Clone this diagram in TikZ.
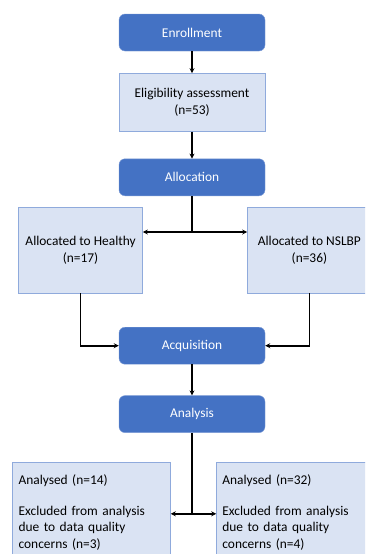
\documentclass[tikz,border=0pt]{standalone}
\usepackage{fontspec}
\setmainfont{Carlito}
\usepackage{tikz}
\usetikzlibrary{arrows.meta, positioning}
\definecolor{phaseblue}{HTML}{4472C4}
\definecolor{phaseedge}{HTML}{7C9BD6}
\definecolor{infofill}{HTML}{DAE3F3}
\definecolor{infoedge}{HTML}{8FAADC}
\tikzstyle{arrow} = [line width=1.6pt,-{Stealth[length=5pt,width=5pt]}]
\tikzstyle{phase} = [draw=phaseedge, fill=phaseblue, text=white, rounded corners=6pt,
  minimum width=146pt, minimum height=37pt, font=\fontsize{13.4}{17}\selectfont]
\tikzstyle{info} = [draw=infoedge, fill=infofill, align=center,
  font=\fontsize{13.4}{17}\selectfont]
\tikzstyle{result} = [draw=infoedge, fill=infofill, align=left, text width=146pt,
  inner xsep=6pt, inner ysep=13pt, font=\fontsize{13.4}{16.5}\selectfont]

\begin{document}
\begin{tikzpicture}[x=1pt, y=-1pt, node distance=22pt]
		\clip (0,0) rectangle (365,554);
		\fill[white] (0,0) rectangle (365,554);
		\node[phase]                                   (enrol)    at (192,32.5) {Enrollment};
		\node[info, minimum width=146pt, minimum height=58pt, below=of enrol]
		                                               (elig)     {Eligibility assessment\\(n=53)};
		\node[phase, below=27pt of elig]               (alloc)    {Allocation};
		\node[info, minimum width=124pt, minimum height=86pt, below left=11pt and -24pt of alloc]
		                                               (healthy)  {Allocated to Healthy\\(n=17)};
		\node[info, minimum width=124pt, minimum height=86pt, below right=11pt and -18pt of alloc]
		                                               (nslbp)    {Allocated to NSLBP\\(n=36)};
		\node[phase, below=131pt of alloc]             (acq)      {Acquisition};
		\node[phase, below=31pt of acq]                (analysis) {Analysis};
		\node[result, below left=29pt and -52pt of analysis]
		                                               (res hc)   {Analysed (n=14)\\[14pt]Excluded from analysis\\due to data quality\\concerns (n=3)\\[20pt]};
		\node[result, below right=29pt and -49pt of analysis]
		                                               (res lbp)  {Analysed (n=32)\\[14pt]Excluded from analysis\\due to data quality\\concerns (n=4)\\[20pt]};
		\coordinate[below=36pt of alloc.south]         (split);
		\coordinate[below=81pt of analysis.south]      (split2);

		\draw[arrow] (enrol) -- (elig);
		\draw[arrow] (elig) -- (alloc);
		\draw[line width=1.6pt] (alloc) -- (split);
		\draw[arrow] (split) -- (split -| healthy.east);
		\draw[arrow] (split) -- (split -| nslbp.west);
		\draw[arrow] (healthy) |- (acq);
		\draw[arrow] (nslbp) |- (acq);
		\draw[arrow] (acq) -- (analysis);
		\draw[line width=1.6pt] (analysis) -- (split2);
		\draw[arrow] (split2) -- (split2 -| res hc.east);
		\draw[arrow] (split2) -- (split2 -| res lbp.west);
	\end{tikzpicture}
\end{document}
